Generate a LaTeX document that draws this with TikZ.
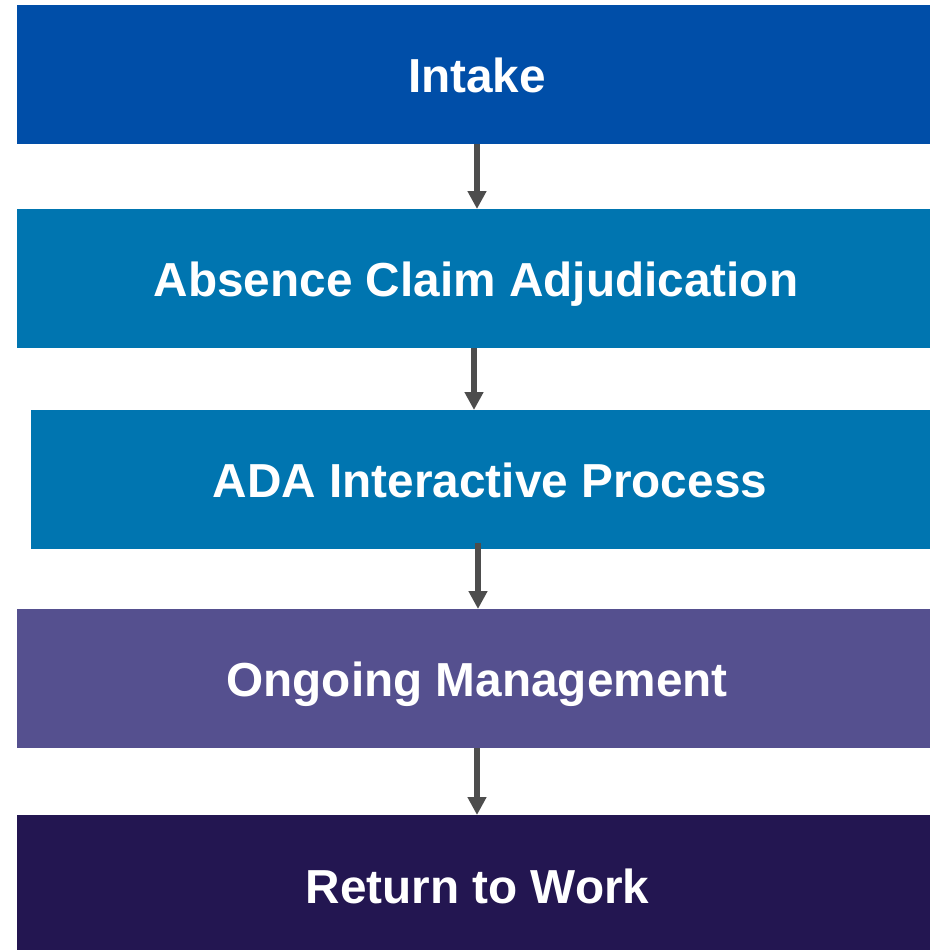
\documentclass[tikz,border=0pt]{standalone}
\usepackage{fontspec}
\setmainfont{Liberation Sans}
\usetikzlibrary{arrows.meta}
\definecolor{intakeblue}{RGB}{0,78,168}
\definecolor{stepblue}{RGB}{0,117,176}
\definecolor{stepviolet}{RGB}{85,80,143}
\definecolor{stepnavy}{RGB}{35,22,81}
\definecolor{arrowgray}{RGB}{77,77,77}
\begin{document}
\begin{tikzpicture}[x=0.75pt,y=-0.75pt,
  stagebox/.style={rectangle,draw=none,inner sep=0pt,outer sep=0pt,
    minimum width=684.75pt,minimum height=104.25pt},
  stagetext/.style={anchor=base,text=white,inner sep=0pt,
    font=\bfseries\fontsize{35.8}{40}\selectfont},
  flow/.style={draw=arrowgray,line width=4.5pt,
    -{Triangle[width=13.5pt,length=13.5pt]}}]
\useasboundingbox (0,0) rectangle (930,950);

% stage boxes
\node[stagebox,fill=intakeblue] (b1) at (473.5,74.5) {};
\node[stagebox,fill=stepblue]   (b2) at (473.5,278.5) {};
\node[stagebox,fill=stepblue,minimum width=674.25pt] (b3) at (480.5,479.5) {};
\node[stagebox,fill=stepviolet] (b4) at (473.5,678.5) {};
\node[stagebox,fill=stepnavy,minimum height=101.25pt] (b5) at (473.5,882.5) {};

% stage labels
\node[stagetext] (t1) at (477,92)    {Intake};
\node[stagetext] (t2) at (476,296)   {Absence Claim Adjudication};
\node[stagetext] (t3) at (490,497)   {ADA Interactive Process};
\node[stagetext] (t4) at (477,696)   {Ongoing Management};
\node[stagetext] (t5) at (477.5,903) {Return to Work};

% connectors
\draw[flow] ([xshift=2.625pt]b1.south) -- ([xshift=2.625pt]b2.north);
\draw[flow] ([xshift=0.375pt]b2.south) -- ([xshift=-4.875pt]b3.north);
\draw[flow] ([xshift=-1.875pt,yshift=4.5pt]b3.south) -- ([xshift=3.375pt]b4.north);
\draw[flow] ([xshift=2.625pt]b4.south) -- ([xshift=2.625pt]b5.north);
\end{tikzpicture}
\end{document}
